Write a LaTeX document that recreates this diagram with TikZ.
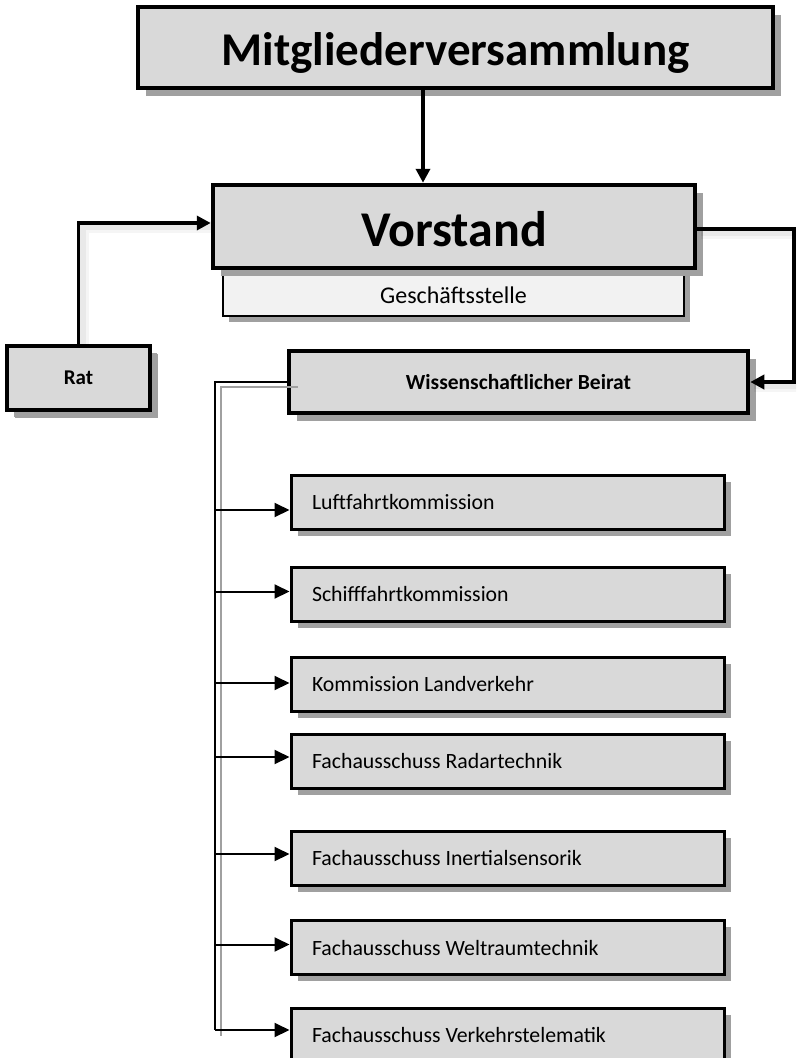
\documentclass[tikz,border=0pt]{standalone}
\usepackage{fontspec}
\setmainfont{Carlito}
\usetikzlibrary{arrows.meta,shadows}
\definecolor{boxfill}{RGB}{217,217,217}
\definecolor{lightfill}{RGB}{242,242,242}
\definecolor{shadowgray}{RGB}{160,160,160}
\tikzset{
  bigbox/.style={draw=black, fill=boxfill, line width=4.5pt, inner sep=0pt,
    drop shadow={shadow xshift=8pt, shadow yshift=-8pt, fill=shadowgray, opacity=1}},
  subbox/.style={draw=black, fill=lightfill, line width=2pt, inner sep=0pt,
    font=\fontsize{24}{28}\selectfont,
    drop shadow={shadow xshift=6pt, shadow yshift=-6pt, fill=shadowgray, opacity=1}},
  childbox/.style={draw=black, fill=boxfill, line width=3pt, minimum width=433pt,
    minimum height=54pt, text width=391pt, align=flush left, inner xsep=21pt, inner ysep=0pt,
    font=\fontsize{21.8}{25}\selectfont,
    drop shadow={shadow xshift=6.5pt, shadow yshift=-6.5pt, fill=shadowgray, opacity=1}},
  mainarrow/.style={draw=black, line width=3.5pt, -{Triangle[length=14pt,width=14pt]}},
  lineshadowa/.style={draw=black, opacity=0.04, line width=12pt,
    transform canvas={xshift=4pt,yshift=-4pt}},
  lineshadowb/.style={draw=black, opacity=0.05, line width=6pt,
    transform canvas={xshift=4pt,yshift=-4pt}},
  trunk/.style={draw=black, line width=2.5pt},
  grayline/.style={draw=shadowgray, line width=2pt},
  childarrow/.style={draw=black, line width=2pt, -{Triangle[length=15pt,width=14pt]}}
}
\begin{document}
\begin{tikzpicture}[x=1pt,y=-1pt]
\useasboundingbox (0,0) rectangle (796,1058);
\clip (0,0) rectangle (796,1058);

% boxes
\node[bigbox, minimum width=635pt, minimum height=81pt, text height=43pt,
  font=\bfseries\fontsize{47}{56}\selectfont] (mv) at (455.5,47.5) {Mitgliederversammlung};
\node[subbox, minimum width=461pt, minimum height=48pt, text height=24pt] (gs) at (453.5,292) {Geschäftsstelle};
\node[bigbox, minimum width=482pt, minimum height=83pt, text height=41pt,
  font=\bfseries\fontsize{50}{60}\selectfont] (vs) at (454,226.5) {Vorstand};
\node[bigbox, line width=4pt, minimum width=143pt, minimum height=64pt,
  drop shadow={shadow xshift=7pt, shadow yshift=-7pt, fill=shadowgray, opacity=1},
  font=\bfseries\fontsize{21}{25}\selectfont] (rat) at (78.5,378) {Rat};
\node[bigbox, minimum width=459pt, minimum height=62pt,
  font=\bfseries\fontsize{21.5}{25}\selectfont] (wb) at (518.5,382) {Wissenschaftlicher Beirat};

\node[childbox] (c1) at (507.5,502)  {Luftfahrtkommission};
\node[childbox] (c2) at (507.5,594)  {Schifffahrtkommission};
\node[childbox] (c3) at (507.5,684)  {Kommission Landverkehr};
\node[childbox] (c4) at (507.5,761)  {Fachausschuss Radartechnik};
\node[childbox] (c5) at (507.5,858)  {Fachausschuss Inertialsensorik};
\node[childbox] (c6) at (507.5,947.5) {Fachausschuss Weltraumtechnik};
\node[childbox] (c7) at (507.5,1035) {Fachausschuss Verkehrstelematik};

% top arrow
\coordinate (mva) at (423,88);
\draw[mainarrow] (mva) -- (mva |- vs.north);

% Rat -> Vorstand
\draw[lineshadowa] (rat.north) |- ([yshift=3.5pt]vs.west);
\draw[lineshadowb] (rat.north) |- ([yshift=3.5pt]vs.west);
\draw[mainarrow] (rat.north) |- ([yshift=3.5pt]vs.west);

% Vorstand -> Beirat
\coordinate (rc) at (794,229);
\draw[lineshadowa] ([yshift=-2.5pt]vs.east) -- (rc) |- (wb.east);
\draw[lineshadowb] ([yshift=-2.5pt]vs.east) -- (rc) |- (wb.east);
\draw[mainarrow] ([yshift=-2.5pt]vs.east) -- (rc) |- (wb.east);

% trunk
\coordinate (tr) at (215,382);
\coordinate (b1) at (215,510);
\coordinate (b2) at (215,591.5);
\coordinate (b3) at (215,683);
\coordinate (b4) at (215,757);
\coordinate (b5) at (215,854);
\coordinate (b6) at (215,944.5);
\coordinate (b7) at (215,1030);
\coordinate (g0) at (298,387);
\coordinate (g1) at (221,387);
\coordinate (g2) at (221,1036);
\draw[grayline] (g0) -- (g1) -- (g2);
\draw[trunk] (wb.west) -- (tr) -- (b7);

\draw[childarrow] (b1) -- (b1 -| c1.west);
\draw[childarrow] (b2) -- (b2 -| c2.west);
\draw[childarrow] (b3) -- (b3 -| c3.west);
\draw[childarrow] (b4) -- (b4 -| c4.west);
\draw[childarrow] (b5) -- (b5 -| c5.west);
\draw[childarrow] (b6) -- (b6 -| c6.west);
\draw[childarrow] (b7) -- (b7 -| c7.west);
\end{tikzpicture}
\end{document}
